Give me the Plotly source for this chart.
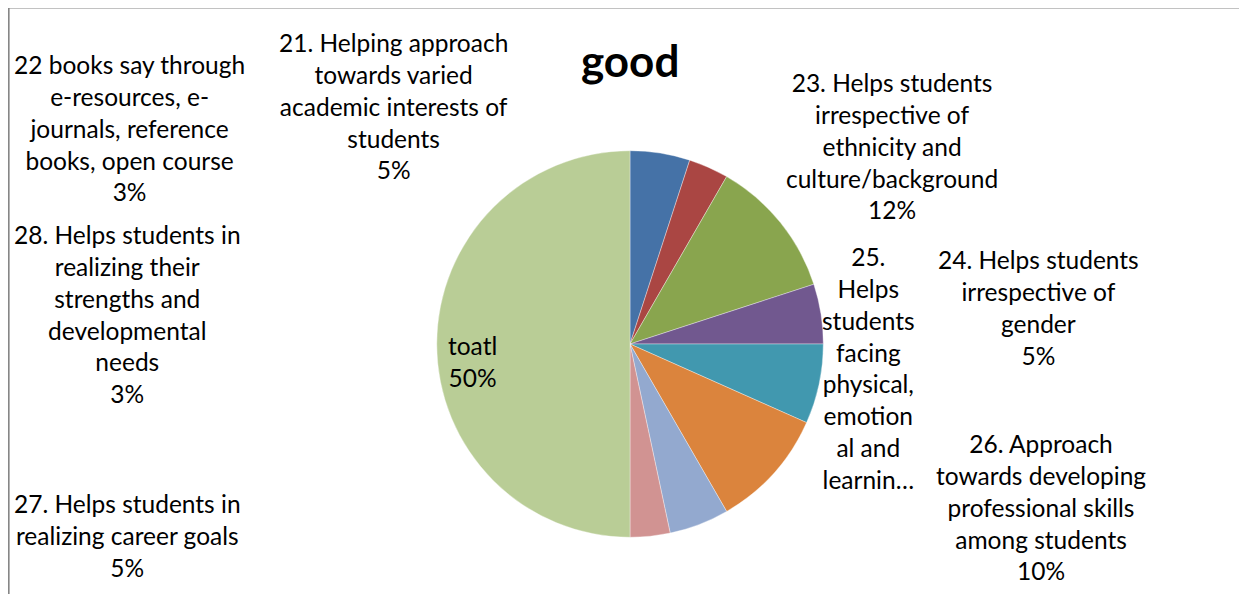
import plotly.graph_objects as go

# Slice data (clockwise from 12 o'clock)
categories = [
    "21. Helping approach towards varied academic interests of students",
    "22 books say through e-resources, e-journals, reference books, open course",
    "23. Helps students irrespective of ethnicity and culture/background",
    "24. Helps students irrespective of gender",
    "25. Helps students facing physical, emotional and learning disabilities",
    "26. Approach towards developing professional skills among students",
    "27. Helps students in realizing career goals",
    "28. Helps students in realizing their strengths and developmental needs",
    "toatl",
]
values = [3, 2, 7, 3, 4, 6, 3, 2, 30]
colors = ["#4572A7", "#AA4643", "#89A54E", "#71588F", "#4198AF",
          "#DB843D", "#93A9CF", "#D19392", "#B9CD96"]

# Label text as it is wrapped in the chart
label_lines = [
    ["21. Helping approach", "towards varied", "academic interests of", "students"],
    ["22 books say through", "e-resources, e-", "journals, reference", "books, open course"],
    ["23. Helps students", "irrespective of", "ethnicity and", "culture/background"],
    ["24. Helps students", "irrespective of", "gender"],
    ["25.", "Helps", "students", "facing", "physical,", "emotion", "al and", "learnin…"],
    ["26. Approach", "towards developing", "professional skills", "among students"],
    ["27. Helps students in", "realizing career goals"],
    ["28. Helps students in", "realizing their", "strengths and", "developmental", "needs"],
    ["toatl"],
]
show_pct = [True, True, True, True, False, True, True, True, True]

# label centres in window pixels (x, y from top)
label_pos = [(393, 106), (129, 128), (892, 146), (1038, 307), (868, 368),
             (1041, 507), (127, 535), (127, 314), (472, 361)]

# the page body adds an 8px offset, so the figure is a bit smaller than the window
OFF = 8
W, H = 1247 - OFF, 594 - OFF
FONT = "Lato"


def px2x(px):
    return (px - OFF) / W


def py2y(py):
    return 1 - (py - OFF) / H


fig = go.Figure()
fig.add_trace(go.Pie(
    labels=categories,
    values=values,
    sort=False,
    direction="clockwise",
    rotation=0,
    marker=dict(colors=colors, line=dict(color="rgba(255,255,255,0.6)", width=0.6)),
    textinfo="none",
    hoverinfo="label+value+percent",
    showlegend=False,
    domain=dict(x=[px2x(630 - 193.3), px2x(630 + 193.3)],
                y=[py2y(537.3), py2y(150.7)]),
))

total = sum(values)
for lines, pct, v, (px, py) in zip(label_lines, show_pct, values, label_pos):
    text_lines = list(lines)
    if pct:
        text_lines.append(f"{round(v / total * 100)}%")
    fig.add_annotation(
        text="<br>".join(text_lines),
        x=px2x(px), y=py2y(py), xref="paper", yref="paper",
        xanchor="center", yanchor="middle", showarrow=False,
        align="center",
        font=dict(family=FONT, size=24.5, color="#000000"),
    )

# chart title
fig.add_annotation(
    text="<b>good</b>", x=px2x(630), y=py2y(60), xref="paper", yref="paper",
    xanchor="center", yanchor="middle", showarrow=False,
    font=dict(family=FONT, size=44, color="#000000"),
)

# chart area border (only left/top edges visible)
fig.add_shape(type="rect", xref="paper", yref="paper",
              x0=0.0005, x1=1.2, y0=-0.2, y1=py2y(7.5),
              line=dict(color="#868686", width=2))

fig.update_layout(
    width=W, height=H,
    margin=dict(l=0, r=0, t=0, b=0),
    paper_bgcolor="white",
    plot_bgcolor="white",
    font=dict(family=FONT),
)

fig.write_html("out.html")
